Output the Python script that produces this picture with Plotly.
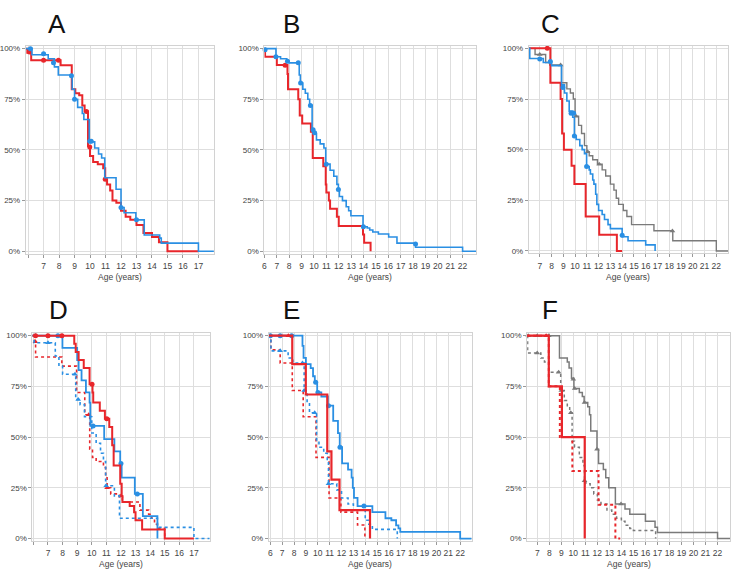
import plotly.graph_objects as go

W, H = 734, 572
RED = "#e8262b"
BLUE = "#2a8fe3"
GRAY = "#7a7a7a"

# ---------------- data (age in years, survival fraction) ----------------
A_red_t = [5.85, 5.95, 6.2, 8.1, 8.82, 9.05, 9.3, 9.5, 9.65, 9.87, 10.0, 10.2, 10.5, 10.85, 10.98, 11.1, 11.3, 11.45, 11.7, 12.0, 12.3, 12.6, 13.0, 13.45, 14.0, 14.45, 15.0, 17.0]
A_red_s = [1.0, 0.98, 0.943, 0.918, 0.80, 0.78, 0.77, 0.72, 0.69, 0.52, 0.47, 0.44, 0.43, 0.41, 0.355, 0.33, 0.30, 0.25, 0.24, 0.20, 0.17, 0.155, 0.13, 0.09, 0.07, 0.045, 0.0, 0.0]
A_red_mt = [6.09, 7.0, 7.96, 9.77, 9.98, 10.98]
A_red_ms = [0.984, 0.943, 0.943, 0.69, 0.515, 0.355]
A_blue_t = [5.85, 6.25, 7.3, 7.7, 7.95, 8.85, 9.0, 9.2, 9.5, 9.6, 9.95, 10.3, 10.55, 10.75, 10.95, 11.68, 12.0, 12.2, 12.96, 13.5, 14.5, 14.6, 17.0, 18.0]
A_blue_s = [1.0, 0.97, 0.95, 0.91, 0.87, 0.80, 0.75, 0.71, 0.68, 0.65, 0.54, 0.51, 0.48, 0.46, 0.363, 0.306, 0.216, 0.19, 0.155, 0.08, 0.065, 0.04, 0.0, 0.0]
A_blue_mt = [6.15, 7.0, 7.64, 8.8, 9.0, 9.98, 10.08, 12.0, 13.0]
A_blue_ms = [1.0, 0.975, 0.93, 0.866, 0.75, 0.543, 0.543, 0.216, 0.155]

B_red_t = [6.0, 6.05, 7.0, 7.86, 7.9, 8.73, 8.85, 9.05, 9.75, 9.9, 10.75, 10.95, 11.0, 11.2, 11.3, 11.85, 12.0, 13.96, 14.05, 14.57]
B_red_s = [1.0, 0.96, 0.92, 0.875, 0.80, 0.75, 0.67, 0.63, 0.59, 0.46, 0.42, 0.33, 0.29, 0.25, 0.21, 0.17, 0.125, 0.083, 0.042, 0.0]
B_red_mt = [7.67]
B_red_ms = [0.918]
B_blue_t = [6.0, 6.93, 7.3, 7.8, 8.0, 8.81, 8.9, 9.1, 9.3, 9.5, 9.65, 9.85, 10.0, 10.2, 10.5, 10.8, 10.95, 11.3, 11.6, 11.85, 11.97, 12.05, 12.3, 12.6, 12.8, 12.98, 13.96, 14.3, 14.5, 14.75, 15.2, 16.03, 16.7, 18.2, 22.0, 23.1]
B_blue_s = [1.0, 0.96, 0.95, 0.938, 0.93, 0.87, 0.83, 0.80, 0.78, 0.75, 0.72, 0.60, 0.58, 0.55, 0.53, 0.51, 0.43, 0.40, 0.37, 0.33, 0.305, 0.27, 0.25, 0.22, 0.20, 0.175, 0.121, 0.115, 0.105, 0.095, 0.085, 0.07, 0.04, 0.02, 0.0, 0.0]
B_blue_mt = [6.05, 6.93, 7.86, 8.73, 8.92, 9.71, 9.93, 10.05, 10.99, 11.97, 13.99, 18.2]
B_blue_ms = [0.995, 0.96, 0.938, 0.93, 0.83, 0.72, 0.60, 0.585, 0.43, 0.305, 0.121, 0.036]

C_red_t = [6.07, 7.9, 8.77, 8.9, 9.05, 9.7, 9.94, 10.9, 12.05, 13.55, 14.0]
C_red_s = [1.0, 0.83, 0.75, 0.58, 0.50, 0.42, 0.33, 0.17, 0.08, 0.0, 0.0]
C_red_mt = [7.64]
C_red_ms = [1.0]
C_blue_t = [6.07, 6.15, 7.3, 8.0, 8.85, 9.1, 9.3, 9.5, 9.8, 9.94, 10.1, 10.4, 10.6, 10.8, 10.98, 11.2, 11.3, 11.5, 11.6, 11.75, 11.85, 12.0, 12.3, 12.5, 12.8, 13.0, 14.0, 14.5, 16.0, 16.8]
C_blue_s = [1.0, 0.95, 0.93, 0.915, 0.82, 0.78, 0.74, 0.69, 0.66, 0.567, 0.55, 0.52, 0.50, 0.48, 0.417, 0.40, 0.38, 0.35, 0.33, 0.28, 0.23, 0.20, 0.18, 0.155, 0.13, 0.11, 0.07, 0.05, 0.03, 0.0]
C_blue_mt = [7.0, 7.9, 8.96, 9.66, 9.88, 9.94, 10.98, 14.0]
C_blue_ms = [0.948, 0.935, 0.807, 0.68, 0.68, 0.567, 0.417, 0.077]
C_gray_t = [6.07, 6.6, 7.5, 7.85, 8.85, 9.3, 9.6, 9.85, 10.0, 10.3, 10.55, 10.8, 11.0, 11.2, 11.5, 11.9, 12.3, 12.6, 13.0, 13.3, 13.5, 13.7, 14.1, 14.4, 14.8, 16.7, 18.3, 22.0, 23.0]
C_gray_s = [1.0, 0.97, 0.93, 0.918, 0.83, 0.80, 0.78, 0.75, 0.665, 0.62, 0.58, 0.52, 0.49, 0.47, 0.45, 0.428, 0.40, 0.37, 0.33, 0.30, 0.26, 0.23, 0.20, 0.17, 0.13, 0.10, 0.05, 0.0, 0.0]
C_gray_mt = [7.0, 8.77, 10.08, 11.07, 12.05, 18.27]
C_gray_ms = [0.97, 0.918, 0.665, 0.49, 0.428, 0.098]

D_red_t = [5.93, 8.8, 8.9, 9.1, 9.45, 9.85, 10.05, 10.1, 10.55, 10.9, 11.2, 11.4, 11.5, 11.95, 12.05, 12.1, 12.6, 12.9, 13.0, 13.45, 15.0, 17.0]
D_red_s = [1.0, 0.96, 0.92, 0.88, 0.84, 0.76, 0.72, 0.67, 0.63, 0.59, 0.55, 0.46, 0.36, 0.27, 0.21, 0.18, 0.16, 0.13, 0.09, 0.045, 0.0, 0.0]
D_red_mt = [6.15, 7.0, 7.95, 10.02, 11.03]
D_red_ms = [1.0, 1.0, 1.0, 0.76, 0.59]
D_redd_t = [5.93, 6.08, 6.15, 7.95, 8.96, 9.52, 9.86, 10.05, 10.3, 10.8, 10.95, 11.05, 11.3, 11.9, 12.1, 13.3, 13.9, 14.1, 14.3, 14.5, 15.0]
D_redd_s = [1.0, 0.97, 0.895, 0.85, 0.72, 0.61, 0.44, 0.40, 0.38, 0.35, 0.31, 0.25, 0.22, 0.20, 0.18, 0.14, 0.12, 0.10, 0.07, 0.05, 0.0]
D_redd_mt = [6.14, 9.79, 11.05, 12.0]
D_redd_ms = [0.97, 0.61, 0.25, 0.21]
D_blue_t = [5.93, 7.99, 9.0, 9.1, 9.3, 9.6, 9.85, 9.9, 10.85, 11.55, 11.95, 12.05, 12.95, 13.5, 14.5]
D_blue_s = [1.0, 0.94, 0.88, 0.83, 0.78, 0.72, 0.67, 0.555, 0.49, 0.43, 0.37, 0.30, 0.22, 0.11, 0.0]
D_blue_mt = [7.68, 10.09, 12.0, 13.12]
D_blue_ms = [1.0, 0.555, 0.37, 0.22]
D_blued_t = [5.93, 6.05, 7.5, 7.75, 8.0, 8.9, 9.2, 9.5, 10.0, 10.3, 10.6, 10.8, 10.95, 11.55, 11.9, 14.5, 17.0, 18.08]
D_blued_s = [1.0, 0.965, 0.90, 0.85, 0.81, 0.685, 0.66, 0.60, 0.52, 0.47, 0.42, 0.38, 0.26, 0.21, 0.10, 0.055, 0.0, 0.0]
D_blued_mt = [6.14, 7.0, 8.85, 9.07, 10.99]
D_blued_ms = [1.0, 0.965, 0.81, 0.685, 0.26]

E_red_t = [5.87, 7.85, 8.99, 10.8, 11.15, 11.83, 14.4]
E_red_s = [1.0, 0.86, 0.71, 0.43, 0.29, 0.14, 0.0]
E_red_mt = [7.52]
E_red_ms = [1.0]
E_redd_t = [5.87, 6.05, 6.83, 7.85, 8.77, 9.85, 10.95, 11.95, 13.35, 13.97]
E_redd_s = [1.0, 0.93, 0.865, 0.73, 0.60, 0.40, 0.20, 0.13, 0.067, 0.0]
E_blue_t = [5.87, 8.71, 8.8, 9.0, 9.4, 9.6, 9.75, 9.95, 10.3, 10.85, 11.3, 11.7, 11.85, 12.05, 12.55, 12.85, 12.95, 13.05, 13.35, 14.6, 15.7, 16.2, 16.6, 16.8, 16.95, 22.0, 22.97]
E_blue_s = [1.0, 0.95, 0.89, 0.86, 0.84, 0.80, 0.77, 0.72, 0.70, 0.655, 0.58, 0.52, 0.45, 0.37, 0.34, 0.30, 0.25, 0.20, 0.16, 0.13, 0.10, 0.09, 0.065, 0.05, 0.033, 0.0, 0.0]
E_blue_mt = [6.0, 6.83, 7.8, 9.82, 10.01, 10.9, 11.87, 13.89]
E_blue_ms = [1.0, 1.0, 1.0, 0.77, 0.72, 0.655, 0.45, 0.16]
E_blued_t = [5.87, 6.05, 7.5, 7.9, 8.85, 9.1, 9.3, 9.9, 10.1, 10.5, 10.8, 10.9, 11.6, 12.0, 12.55, 13.0, 14.0, 14.3, 14.6, 16.7]
E_blued_s = [1.0, 0.925, 0.89, 0.865, 0.73, 0.67, 0.62, 0.48, 0.45, 0.42, 0.39, 0.27, 0.24, 0.20, 0.17, 0.14, 0.09, 0.07, 0.045, 0.0]
E_blued_mt = [6.83, 8.71, 8.85, 9.74, 10.9]
E_blued_ms = [0.925, 0.865, 0.73, 0.62, 0.27]

F_red_t = [6.16, 7.96, 9.05, 10.95]
F_red_s = [1.0, 0.75, 0.50, 0.0]
F_red_mt = [7.74]
F_red_ms = [1.0]
F_redd_t = [6.16, 7.96, 8.88, 9.92, 12.1, 13.5, 13.9]
F_redd_s = [1.0, 0.75, 0.50, 0.333, 0.167, 0.0, 0.0]
F_gray_t = [6.16, 8.85, 9.5, 9.65, 9.85, 10.05, 10.5, 10.75, 10.9, 11.2, 11.35, 11.45, 11.97, 12.1, 12.5, 12.7, 12.95, 13.5, 14.3, 14.7, 16.0, 16.8, 17.0, 22.0, 23.04]
F_gray_s = [1.0, 0.89, 0.87, 0.84, 0.79, 0.74, 0.72, 0.70, 0.67, 0.65, 0.61, 0.53, 0.44, 0.37, 0.34, 0.30, 0.25, 0.17, 0.145, 0.12, 0.085, 0.055, 0.03, 0.0, 0.0]
F_gray_mt = [6.25, 7.0, 7.96, 10.0, 10.11, 10.93, 11.97, 13.97]
F_gray_ms = [1.0, 1.0, 1.0, 0.785, 0.74, 0.67, 0.44, 0.17]
F_grayd_t = [6.16, 6.2, 7.3, 7.6, 8.0, 8.95, 9.25, 9.5, 9.7, 9.9, 10.1, 10.5, 10.8, 10.93, 11.05, 11.4, 11.7, 12.0, 12.3, 12.8, 13.2, 13.6, 14.0, 14.3, 14.7, 15.0, 16.85]
F_grayd_s = [1.0, 0.915, 0.89, 0.87, 0.82, 0.73, 0.68, 0.65, 0.62, 0.48, 0.45, 0.40, 0.36, 0.285, 0.27, 0.25, 0.22, 0.19, 0.17, 0.14, 0.12, 0.10, 0.085, 0.065, 0.05, 0.04, 0.0]
F_grayd_mt = [7.0, 8.78, 9.0, 9.79, 10.93]
F_grayd_ms = [0.915, 0.82, 0.73, 0.62, 0.285]

Y_TICKS = [0, 0.25, 0.5, 0.75, 1.0]
Y_LABELS = ["0%", "25%", "50%", "75%", "100%"]
PANEL_LETTERS = ["A", "B", "C", "D", "E", "F"]
X_TITLE = "Age (years)"

# ---------------- layout geometry (pixels) ----------------
panels = {
    "A": dict(px=(15, 206), py=(47, 251), xr=(5.85, 18.0), ticks=list(range(6, 18)), lab=(47, 22)),
    "B": dict(px=(257.3, 472.3), py=(47, 251), xr=(6.0, 23.1), ticks=list(range(6, 23)), lab=(285, 22)),
    "C": dict(px=(525.7, 728), py=(46.7, 250.7), xr=(6.07, 23.0), ticks=list(range(7, 23)), lab=(548, 22)),
    "D": dict(px=(21.7, 201.7), py=(336, 540.3), xr=(5.93, 18.08), ticks=list(range(6, 18)), lab=(48, 310)),
    "E": dict(px=(261.7, 467.7), py=(336, 540.3), xr=(5.87, 22.97), ticks=list(range(6, 23)), lab=(285, 310)),
    "F": dict(px=(524, 730), py=(336, 540.3), xr=(6.16, 23.04), ticks=list(range(7, 23)), lab=(547, 310)),
}
no_label = {"A": [6], "D": [6], "C": [], "F": [], "B": [], "E": []}

curves = {
    "A": [(A_red_t, A_red_s, A_red_mt, A_red_ms, RED, "solid", 2.0, "circle"),
          (A_blue_t, A_blue_s, A_blue_mt, A_blue_ms, BLUE, "solid", 1.6, "circle")],
    "B": [(B_red_t, B_red_s, B_red_mt, B_red_ms, RED, "solid", 2.0, "circle"),
          (B_blue_t, B_blue_s, B_blue_mt, B_blue_ms, BLUE, "solid", 1.6, "circle")],
    "C": [(C_gray_t, C_gray_s, C_gray_mt, C_gray_ms, GRAY, "solid", 1.4, "triangle-up"),
          (C_red_t, C_red_s, C_red_mt, C_red_ms, RED, "solid", 2.0, "circle"),
          (C_blue_t, C_blue_s, C_blue_mt, C_blue_ms, BLUE, "solid", 1.6, "circle")],
    "D": [(D_redd_t, D_redd_s, D_redd_mt, D_redd_ms, RED, "dot", 1.6, "triangle-up"),
          (D_blued_t, D_blued_s, D_blued_mt, D_blued_ms, BLUE, "dot", 1.6, "triangle-up"),
          (D_blue_t, D_blue_s, D_blue_mt, D_blue_ms, BLUE, "solid", 1.8, "circle"),
          (D_red_t, D_red_s, D_red_mt, D_red_ms, RED, "solid", 2.0, "circle")],
    "E": [(E_redd_t, E_redd_s, [], [], RED, "dot", 1.6, "triangle-up"),
          (E_blued_t, E_blued_s, E_blued_mt, E_blued_ms, BLUE, "dot", 1.6, "triangle-up"),
          (E_blue_t, E_blue_s, E_blue_mt, E_blue_ms, BLUE, "solid", 1.8, "circle"),
          (E_red_t, E_red_s, E_red_mt, E_red_ms, RED, "solid", 2.2, "triangle-up")],
    "F": [(F_grayd_t, F_grayd_s, F_grayd_mt, F_grayd_ms, GRAY, "dot", 1.5, "triangle-up"),
          (F_gray_t, F_gray_s, F_gray_mt, F_gray_ms, GRAY, "solid", 1.5, "triangle-up"),
          (F_redd_t, F_redd_s, [], [], RED, "dot", 2.0, "circle"),
          (F_red_t, F_red_s, F_red_mt, F_red_ms, RED, "solid", 2.2, "triangle-up")],
}

fig = go.Figure()
layout = {}
annotations = []
YPAD = 0.012
FONT = "Liberation Sans, Arial"

for i, key in enumerate(PANEL_LETTERS):
    p = panels[key]
    n = "" if i == 0 else str(i + 1)
    xa, ya = "x" + n, "y" + n
    (x0, x1), (y100, y0) = p["px"], p["py"]
    hpx = y0 - y100
    top = y100 - YPAD * hpx
    bot = y0 + YPAD * hpx
    ticktext = ["" if t in no_label[key] else str(t) for t in p["ticks"]]
    layout["xaxis" + n] = dict(
        domain=[x0 / W, x1 / W], range=list(p["xr"]), anchor=ya,
        tickvals=p["ticks"], ticktext=ticktext, ticks="outside", ticklen=3,
        tickcolor="#999", tickwidth=1, tickfont=dict(size=8.5, color="#444", family=FONT),
        showgrid=True, gridcolor="#dedede", gridwidth=1, zeroline=False,
        showline=True, linecolor="#d2d2d2", mirror=True, ticklabelstandoff=1,
        fixedrange=True,
    )
    layout["yaxis" + n] = dict(
        domain=[1 - bot / H, 1 - top / H], range=[-YPAD, 1 + YPAD], anchor=xa,
        tickvals=Y_TICKS, ticktext=Y_LABELS, ticks="outside", ticklen=3,
        tickcolor="#999", tickwidth=1, tickfont=dict(size=8, color="#444", family=FONT),
        showgrid=True, gridcolor="#dedede", gridwidth=1, zeroline=False,
        showline=True, linecolor="#d2d2d2", mirror=True, ticklabelstandoff=0,
        fixedrange=True,
    )
    for (t, s, mt, ms, col, dash, w, sym) in curves[key]:
        fig.add_trace(go.Scatter(x=t, y=s, mode="lines", line=dict(color=col, width=w, dash=dash, shape="hv"),
                                 xaxis=xa, yaxis=ya, showlegend=False, hoverinfo="skip"))
        if mt:
            fig.add_trace(go.Scatter(x=mt, y=ms, mode="markers",
                                     marker=dict(color=col, size=5, symbol=sym, line=dict(width=0)),
                                     xaxis=xa, yaxis=ya, showlegend=False, cliponaxis=False, hoverinfo="skip"))
    lx, ly = p["lab"]
    annotations.append(dict(text=key, x=lx / W, y=1 - ly / H, xref="paper", yref="paper",
                            showarrow=False, xanchor="center", yanchor="middle",
                            font=dict(size=26, color="#111", family=FONT)))
    annotations.append(dict(text=X_TITLE, x=(x0 + x1) / 2 / W, y=1 - (y0 + 26) / H, xref="paper", yref="paper",
                            showarrow=False, xanchor="center", yanchor="middle",
                            font=dict(size=8.5, color="#444", family=FONT)))

fig.update_layout(width=W, height=H, margin=dict(l=0, r=0, t=0, b=0), paper_bgcolor="white",
                  plot_bgcolor="white", annotations=annotations, **layout)
fig.write_html("out.html")
